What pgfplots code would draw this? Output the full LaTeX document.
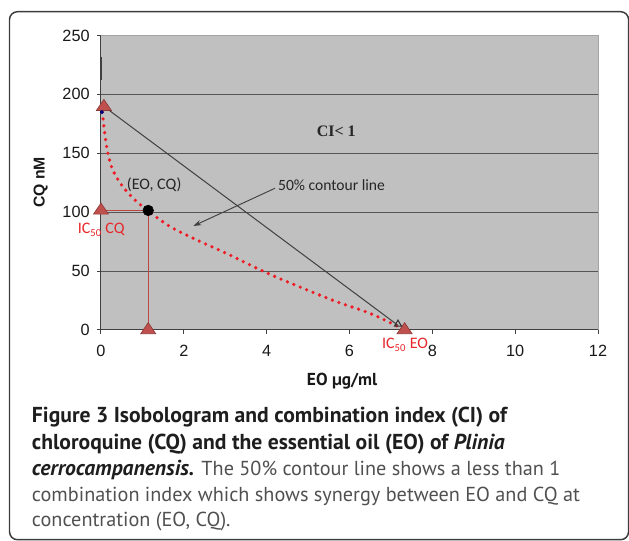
\documentclass[border=0pt]{standalone}
\usepackage{fontspec}
\usepackage{pgfplots}
\pgfplotsset{compat=1.18}
\usetikzlibrary{arrows.meta}
\setmainfont{PT Sans}
\newfontfamily\capfont{PT Sans}
\newfontfamily\annfont{Carlito}
\newfontfamily\tickfont{Liberation Sans}
\newfontfamily\cifont{Liberation Serif}
\definecolor{bggray}{HTML}{C0C0C0}
\definecolor{gridc}{HTML}{555555}
\definecolor{axisc}{HTML}{404040}
\definecolor{bordc}{HTML}{A4A4A4}
\definecolor{tri}{HTML}{C0504D}
\definecolor{triedge}{HTML}{8E3A37}
\definecolor{cred}{HTML}{EE1C25}
\definecolor{lred}{HTML}{B94845}
\definecolor{labred}{HTML}{E8262B}
\definecolor{capbold}{HTML}{1E1E1E}
\definecolor{captxt}{HTML}{505050}
\definecolor{framec}{HTML}{3C3C3C}
\newlength\capw
\AtBeginDocument{%
\settowidth\capw{\capfont\bfseries\fontsize{10pt}{12pt}\selectfont Figure 3 Isobologram and combination index (CI) of}%
\pgfmathsetmacro\bsize{10*356.25/\capw}%
\global\let\bsize\bsize
\settowidth\capw{\capfont\fontsize{10pt}{12pt}\selectfont combination index which shows synergy between EO and CQ at}%
\pgfmathsetmacro\rsize{10*411/\capw}%
\global\let\rsize\rsize
}
\begin{document}
\begin{tikzpicture}[x=0.75pt,y=0.75pt]
\useasboundingbox (0,0) rectangle (629,540);
\draw[line width=1.1pt, framec, rounded corners=6pt] (9.5,0.3) rectangle (628.6,528.3);
\begin{axis}[at={(75.75pt,157.5pt)}, anchor=south west, scale only axis,
  width=372.75pt, height=220.875pt,
  xmin=0, xmax=12, ymin=0, ymax=250,
  xtick={0,2,...,12}, ytick={0,50,...,250},
  axis background/.style={fill=bggray},
  axis x line*=bottom, axis y line*=left,
  axis line style={axisc, line width=0.75pt},
  tick align=outside, major tick length=3pt,
  tick style={axisc, line width=0.75pt},
  clip=false,
  tick label style={font=\tickfont\fontsize{12.2pt}{14pt}\selectfont, text=black!90},
  /pgf/number format/assume math mode=true,
  yticklabel style={xshift=-2pt},
  xticklabel style={yshift=-5pt},
]
\draw[bordc, line width=0.75pt] (rel axis cs:0,1) -- (rel axis cs:1,1) -- (rel axis cs:1,0);
\pgfplotsinvokeforeach{50,100,150,200}{\draw[gridc, line width=0.8pt] (axis cs:0,#1) -- (axis cs:12,#1);}
\draw[axisc, line width=0.8pt] (axis cs:0,212) -- (axis cs:0,232);
\addplot[cred, line width=2.7pt, line cap=round, dash pattern=on 0pt off 5.2pt, smooth, tension=0.55] coordinates {
(0.03,185) (0.08,170) (0.15,153) (0.27,137) (0.5,123) (0.8,111) (1.14,101) (1.66,88) (2.23,77.8) (3.03,65) (4.0,48.5) (4.88,35.4) (5.69,24) (6.49,14.2) (7.17,3)};
\addplot[black!75, line width=0.75pt] coordinates {(0.1,189) (7.17,4)};
\addplot[lred, line width=0.9pt] coordinates {(0,101.5) (1.14,101.5) (1.14,0)};
\addplot[only marks, mark=triangle*, mark size=6.5pt, mark options={fill=tri, draw=triedge, line width=0.5pt, yscale=0.85}] coordinates {(0.07,189.5) (0,101.5) (1.14,0) (7.33,0)};
\addplot[only marks, mark=*, mark size=4pt, mark options={fill=black, draw=black}] coordinates {(1.14,101.5)};
\addplot[only marks, mark=triangle, mark size=3pt, mark options={draw=black!80, fill=tri, line width=0.8pt}] coordinates {(7.17,5)};
\addplot[only marks, mark=*, mark size=1.3pt, mark options={fill=blue!50!black, draw=blue!50!black}] coordinates {(0.02,185)};
\node[font=\annfont\fontsize{12pt}{14pt}\selectfont, text=black!85] at (axis cs:1.284,123.1) {(EO, CQ)};
\node[font=\annfont\fontsize{11.7pt}{14pt}\selectfont, text=black!85, anchor=west, inner sep=0pt] at (axis cs:4.27,123) {50\% contour line};
\node[font=\cifont\bfseries\fontsize{12pt}{14pt}\selectfont, text=black!85] at (axis cs:5.68,168.3) {CI< 1};
\node[font=\annfont\fontsize{12pt}{14pt}\selectfont, text=labred] at (axis cs:0.005,84.9) {IC\textsubscript{50} CQ};
\node[font=\annfont\fontsize{12pt}{14pt}\selectfont, text=labred] at (axis cs:7.34,-12.7) {IC\textsubscript{50} EO};
\draw[black!75, line width=0.7pt, -{Stealth[length=6pt,width=4pt]}] (axis cs:4.2,120.3) -- (axis cs:2.23,88.3);
\end{axis}
\node[rotate=90, font=\tickfont\bfseries\fontsize{11.8pt}{14pt}\selectfont, text=black!90] at (40.8,357.5) {CQ nM};
\node[anchor=base west, inner sep=0pt, font=\capfont\bfseries\fontsize{13pt}{14pt}\selectfont, text=black!90] at (306.7,155) {EO µg/ml};
\begin{scope}[every node/.style={anchor=base west, inner sep=0pt, font=\capfont\fontsize{\rsize pt}{15pt}\selectfont, text=captxt}]
\node at (31.7,117.7) {\textcolor{capbold}{\fontsize{\bsize pt}{15pt}\selectfont\bfseries Figure 3 Isobologram and combination index (CI) of}};
\node at (31.7,91) {\textcolor{capbold}{\fontsize{\bsize pt}{15pt}\selectfont\bfseries chloroquine (CQ) and the essential oil (EO) of \textit{Plinia}}};
\node at (31.7,65) {\textcolor{capbold}{\fontsize{\bsize pt}{15pt}\selectfont\bfseries\itshape cerrocampanensis.} The 50\% contour line shows a less than 1};
\node at (31.7,39) {combination index which shows synergy between EO and CQ at};
\node at (31.7,13.3) {concentration (EO, CQ).};
\end{scope}
\end{tikzpicture}
\end{document}
